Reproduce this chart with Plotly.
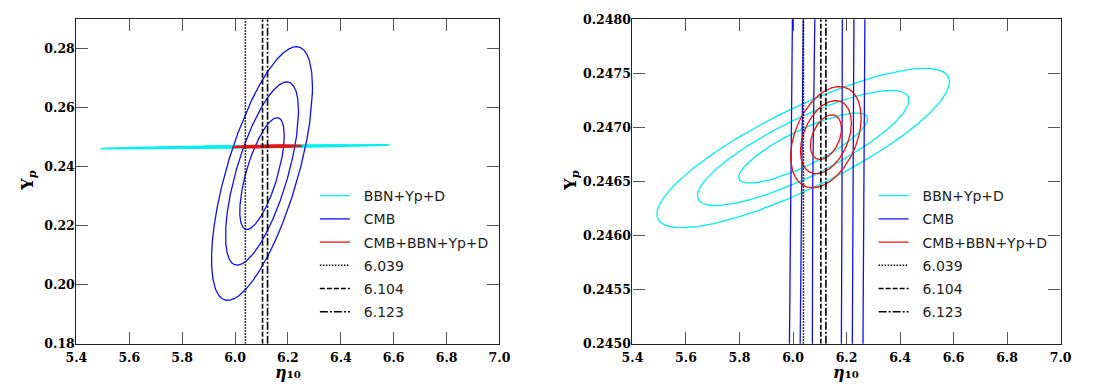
import numpy as np
import plotly.graph_objects as go

# ---------------- data ----------------
x_range = [5.4, 7.0]
left_y_range = [0.18, 0.29]
right_y_range = [0.2450, 0.2480]
x_ticks = [5.4, 5.6, 5.8, 6.0, 6.2, 6.4, 6.6, 6.8, 7.0]
left_y_ticks = [0.18, 0.20, 0.22, 0.24, 0.26, 0.28]
right_y_ticks = [0.2450, 0.2455, 0.2460, 0.2465, 0.2470, 0.2475, 0.2480]

# Gaussian likelihoods: 68/95/99.7% 2D contours
contour_dchi2 = [2.30, 6.18, 11.83]
dataset_names = ["BBN+Yp+D", "CMB", "CMB+BBN+Yp+D"]
dataset_colors = ["#00F0F0", "#1010F0", "#F01010"]
eta_mean = [6.038, 6.102, 6.123]
yp_mean = [0.24681, 0.2377, 0.24691]
eta_sigma = [0.159, 0.0555, 0.0383]
yp_sigma = [0.000214, 0.0125, 0.000136]
corr = [0.83, 0.68, 0.38]

eta_lines = [6.039, 6.104, 6.123]
eta_line_labels = ["6.039", "6.104", "6.123"]
eta_line_dash = ["1.5px,1.5px", "5px,2px", "8px,2px,2px,2px"]

# ---------------- figure ----------------
fig = go.Figure()
t = np.linspace(0, 2 * np.pi, 4001)
pad = "\u00a0\u00a0"

panels = [("x", "y", "legend", left_y_range), ("x2", "y2", "legend2", right_y_range)]
for pi, (xa, ya, lg, yr) in enumerate(panels):
    for di in range(len(dataset_names)):
        for ki, k in enumerate(contour_dchi2):
            r = np.sqrt(k)
            ex = eta_mean[di] + eta_sigma[di] * r * np.cos(t)
            ey = yp_mean[di] + yp_sigma[di] * r * (corr[di] * np.cos(t) + np.sqrt(1 - corr[di] ** 2) * np.sin(t))
            fig.add_trace(go.Scatter(
                x=ex, y=ey, mode="lines", xaxis=xa, yaxis=ya,
                line=dict(color=dataset_colors[di], width=1.3),
                name=pad + dataset_names[di], legend=lg,
                legendgroup=f"{lg}_{di}", showlegend=(ki == 0),
                hoverinfo="skip",
            ))
    for li, xv in enumerate(eta_lines):
        fig.add_trace(go.Scatter(
            x=[xv, xv], y=yr, mode="lines", xaxis=xa, yaxis=ya,
            line=dict(color="black", width=1.6, dash=eta_line_dash[li]),
            name=pad + eta_line_labels[li], legend=lg,
            legendgroup=f"{lg}_v{li}", showlegend=True, hoverinfo="skip",
        ))

W, H = 1114, 388
def px(v):
    return v / W
def py(v):
    return 1 - v / H

tick_font = dict(family="DejaVu Serif", size=12.5, color="black", weight="bold")
axis_common = dict(
    showline=True, linecolor="#222", linewidth=1.2, mirror="ticks",
    ticks="inside", ticklen=12, tickwidth=1.2, tickcolor="#555",
    showgrid=False, zeroline=False, tickfont=tick_font,
)

y_dom = [py(349.3), py(11.7)]
legend_common = dict(xanchor="left", yanchor="top",
                     bgcolor="rgba(0,0,0,0)", borderwidth=0,
                     tracegroupgap=2, traceorder="grouped",
                     font=dict(family="DejaVu Sans", size=14, color="#222"))
fig.update_layout(
    width=W, height=H,
    margin=dict(l=0, r=0, t=0, b=0),
    paper_bgcolor="white", plot_bgcolor="white",
    xaxis=dict(domain=[px(66.7), px(498.3)], range=x_range, tickvals=x_ticks,
               tickformat=".1f", anchor="y", ticklabelstandoff=2, **axis_common),
    yaxis=dict(domain=y_dom, range=left_y_range, tickvals=left_y_ticks,
               tickformat=".2f", anchor="x", ticklabelstandoff=-2, **axis_common),
    xaxis2=dict(domain=[px(634), px(1070.7)], range=x_range, tickvals=x_ticks,
                tickformat=".1f", anchor="y2", ticklabelstandoff=2, **axis_common),
    yaxis2=dict(domain=y_dom, range=right_y_range, tickvals=right_y_ticks,
                tickformat=".4f", anchor="x2", ticklabelstandoff=-2, **axis_common),
    legend=dict(x=px(310), y=py(179), **legend_common),
    legend2=dict(x=px(880), y=py(179), **legend_common),
    showlegend=True,
)

title_font = dict(family="DejaVu Serif", size=16, color="black")
annos = []
for cx in [282.5, 852.3]:
    annos.append(dict(text="<b><i>η</i>₁₀</b>", x=px(cx), y=py(390),
                      xref="paper", yref="paper", showarrow=False, borderpad=0,
                      xanchor="center", yanchor="bottom", font=title_font))
for cx in [17, 571]:
    annos.append(dict(text="<b>Y<sub><i>p</i></sub></b>", x=px(cx), y=py(180),
                      xref="paper", yref="paper", showarrow=False, textangle=-90,
                      xanchor="center", yanchor="middle", font=title_font))
fig.update_layout(annotations=annos)

fig.write_html("out.html")
